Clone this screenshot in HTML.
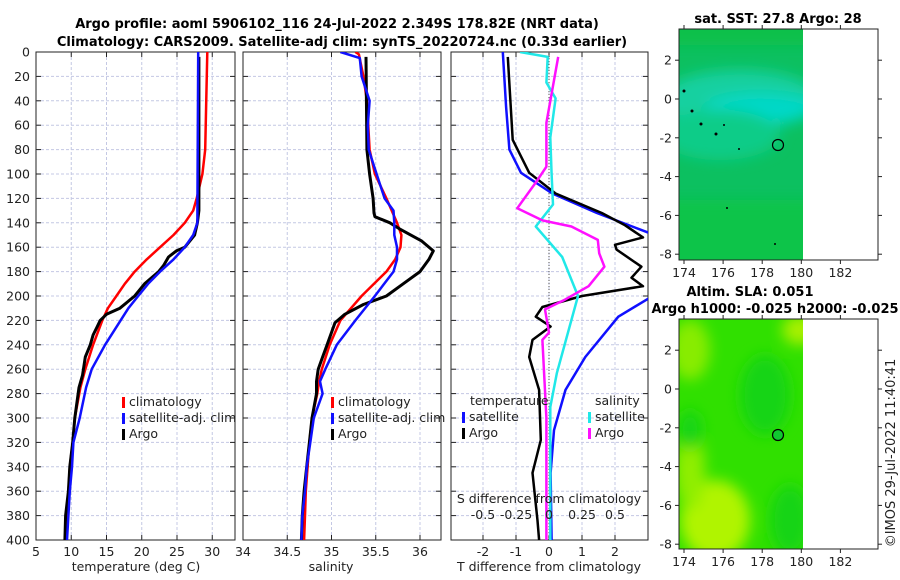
<!DOCTYPE html>
<html><head><meta charset="utf-8"><style>
html,body{margin:0;padding:0;background:#fff}
svg{display:block;font-family:"DejaVu Sans","Liberation Sans",sans-serif}
</style></head><body>
<svg id="c" width="900" height="580" viewBox="0 0 900 580" xmlns="http://www.w3.org/2000/svg">
<defs>
<filter id="bl" x="-20%" y="-20%" width="140%" height="140%"><feGaussianBlur stdDeviation="7"/></filter>
<clipPath id="m1"><rect x="679" y="29" width="124" height="231"/></clipPath>
<clipPath id="m2"><rect x="679" y="319" width="124" height="230"/></clipPath>
<clipPath id="p1"><rect x="36" y="52" width="199" height="488"/></clipPath>
<clipPath id="p2"><rect x="243" y="52" width="198" height="488"/></clipPath>
<clipPath id="p3"><rect x="451" y="52" width="197" height="488"/></clipPath>
</defs>
<g font-weight="bold" font-size="13" text-anchor="middle">
<text x="337" y="28">Argo profile: aoml 5906102_116 24-Jul-2022 2.349S 178.82E (NRT data)</text>
<text x="342" y="46">Climatology: CARS2009. Satellite-adj clim: synTS_20220724.nc (0.33d earlier)</text>
</g>
<g id="g1"></g><g id="g2"></g><g id="g3"></g>

<g>
<text x="778" y="23" font-size="13" font-weight="bold" text-anchor="middle">sat. SST: 27.8 Argo: 28</text>
<g clip-path="url(#m1)">
<rect x="679" y="29" width="124" height="231" fill="#0cc060"/>
<g filter="url(#bl)">
<rect x="660" y="20" width="160" height="25" fill="#10c048"/>
<ellipse cx="740" cy="100" rx="80" ry="30" fill="#18d0a0"/>
<ellipse cx="760" cy="108" rx="55" ry="14" fill="#00d8c8"/>
<ellipse cx="720" cy="135" rx="60" ry="25" fill="#10cc88"/>
<rect x="660" y="200" width="160" height="70" fill="#10c448"/>
</g>
<g fill="#000"><circle cx="684" cy="91" r="1.5"/><circle cx="692" cy="111" r="1.5"/><circle cx="701" cy="124" r="1.5"/><circle cx="716" cy="134" r="1.5"/><circle cx="724" cy="125" r="1"/><circle cx="739" cy="149" r="1"/><circle cx="727" cy="208" r="1"/><circle cx="775" cy="244" r="1"/></g>
</g>
<rect x="679" y="29" width="199" height="231" fill="none" stroke="#222"/>
<circle cx="778" cy="145" r="5.5" fill="none" stroke="#000" stroke-width="1.2"/>
</g>
<g>
<text x="750" y="296" font-size="13" font-weight="bold" text-anchor="middle">Altim. SLA: 0.051</text>
<text x="775" y="313" font-size="13" font-weight="bold" text-anchor="middle">Argo h1000: -0.025 h2000: -0.025</text>
<g clip-path="url(#m2)">
<rect x="679" y="319" width="124" height="230" fill="#30e000"/>
<g filter="url(#bl)">
<ellipse cx="690" cy="350" rx="20" ry="30" fill="#88ec00"/>
<ellipse cx="800" cy="330" rx="18" ry="15" fill="#a8f000"/>
<ellipse cx="715" cy="520" rx="35" ry="40" fill="#b0f400"/>
<ellipse cx="690" cy="470" rx="15" ry="40" fill="#90ee00"/>
<ellipse cx="765" cy="395" rx="25" ry="40" fill="#14d414"/>
<ellipse cx="790" cy="520" rx="20" ry="35" fill="#14d414"/>
<ellipse cx="690" cy="430" rx="12" ry="20" fill="#14d414"/>
</g>
</g>
<rect x="679" y="319" width="199" height="230" fill="none" stroke="#222"/>
<circle cx="778" cy="435" r="5.5" fill="#10c830" stroke="#000" stroke-width="1.2"/>
</g>
<text transform="translate(895,453) rotate(-90)" font-size="13" text-anchor="middle" fill="#222">©IMOS 29-Jul-2022 11:40:41</text>
</svg>
<script>
const tClimDepth=[0,80,100,120,130,140,150,160,170,180,190,200,210,220,240,260,275,300,320,340,360,380,400];
const tClimVal=[29.3,29.0,28.6,27.8,27.3,26.1,24.5,22.6,20.7,19.0,17.6,16.4,15.2,14.4,13.1,12.0,11.3,10.5,10.2,9.8,9.6,9.3,9.2];
const tSatDepth=[0,130,140,150,160,170,180,190,200,210,220,240,260,275,300,320,340,360,380,400];
const tSatVal=[28.0,27.9,27.9,27.3,26.1,24.5,22.6,20.9,19.5,18.1,17.0,14.8,12.9,12.1,11.2,10.3,10.1,9.8,9.6,9.4];
const tArgoDepth=[4,120,130,140,150,160,163,168,175,180,190,200,210,215,220,225,232,240,250,265,275,300,320,340,360,380,400];
const tArgoVal=[28.1,28.1,28.1,27.9,27.5,26.1,24.9,23.8,23.1,22.4,20.4,19.0,16.9,15.0,14.1,13.7,13.1,12.7,12.0,11.6,11.1,10.5,10.2,9.8,9.6,9.2,9.1];
const sClimDepth=[0,2,20,40,80,100,120,140,150,160,170,180,200,220,240,260,270,280,300,320,340,360,380,400];
const sClimVal=[35.27,35.31,35.36,35.40,35.43,35.49,35.62,35.74,35.79,35.78,35.72,35.62,35.34,35.10,34.98,34.89,34.86,34.84,34.78,34.75,34.73,34.71,34.70,34.69];
const sSatDepth=[0,5,20,40,60,80,100,120,130,140,150,160,170,180,200,220,240,260,270,280,300,320,340,360,380,400];
const sSatVal=[35.10,35.32,35.34,35.43,35.41,35.42,35.51,35.60,35.70,35.71,35.71,35.74,35.74,35.70,35.49,35.27,35.06,34.93,34.87,34.90,34.80,34.76,34.72,34.70,34.67,34.66];
const sArgoDepth=[4,80,100,120,132,135,140,145,155,163,170,180,190,200,207,215,222,240,250,260,270,280,300,320,340,360,380,400];
const sArgoVal=[35.39,35.40,35.43,35.47,35.48,35.49,35.66,35.77,36.02,36.15,36.10,36.00,35.81,35.62,35.36,35.15,35.04,34.95,34.90,34.85,34.83,34.83,34.78,34.75,34.72,34.69,34.67,34.66];
const dTSatDepth=[0,45,80,99,116,132,150,199,217,250,277,310,345,400];
const dTSatVal=[-1.4,-1.3,-1.2,-0.85,0.1,1.45,3.2,3.2,2.1,1.1,0.5,0.15,0.05,0.08];
const dTArgoDepth=[4,72,99,116,132,142,152,158,162,176,185,192,200,209,217,225,236,250,277,318,345,384,400];
const dTArgoVal=[-1.25,-1.1,-0.6,0.2,1.6,2.3,2.85,2.0,2.05,2.8,2.5,2.85,1.0,-0.2,-0.4,0.05,-0.5,-0.6,-0.3,-0.25,-0.5,-0.35,-0.3];
const dSSatDepth=[0,4,25,38,70,100,125,143,168,200,263,291,400];
const dSSatVal=[-0.22,-0.01,-0.02,0.05,0.01,0.02,0.03,-0.1,0.1,0.22,0.06,0.01,0.01];
const dSArgoDepth=[4,58,94,107,128,138,143,154,165,176,192,203,211,230,236,300,400];
const dSArgoVal=[0.07,-0.02,-0.02,-0.1,-0.24,-0.05,0.17,0.37,0.38,0.42,0.3,0.12,-0.03,0.0,-0.05,-0.02,-0.02];
const depthTicks=[0,20,40,60,80,100,120,140,160,180,200,220,240,260,280,300,320,340,360,380,400];
const tTicks=[5,10,15,20,25,30];
const sTicks=[34,34.5,35,35.5,36];
const dTTicks=[-2,-1,0,1,2];
const dSTicks=[-0.5,-0.25,0,0.25,0.5];
const dSTickLabels=["-0.5","-0.25","0","0.25","0.5"];

const NS='http://www.w3.org/2000/svg';
const Y0=52,Y1=540;
const yD=d=>Y0+(Y1-Y0)*d/400;
function mk(p,tag,a){const e=document.createElementNS(NS,tag);for(const k in a)e.setAttribute(k,a[k]);p.appendChild(e);return e;}
function panel(g,x0,x1,xs,ticks,labels){
  const fr=mk(g,'rect',{x:x0,y:Y0,width:x1-x0,height:Y1-Y0,fill:'none',stroke:'#222','stroke-width':1});
  
  
  depthTicks.forEach(d=>{
    if(d>0&&d<400){const l=mk(g,'line',{x1:x0,x2:x1,y1:yD(d),y2:yD(d),stroke:'#c4c8e4','stroke-dasharray':'3,2','stroke-width':1});
    
    }
    mk(g,'line',{x1:x0,x2:x0+5,y1:yD(d),y2:yD(d),stroke:'#222'});
    mk(g,'line',{x1:x1-5,x2:x1,y1:yD(d),y2:yD(d),stroke:'#222'});
  });
  ticks.forEach((v,i)=>{
    const x=xs(v);
    if(x>x0+1&&x<x1-1){const l=mk(g,'line',{x1:x,x2:x,y1:Y0,y2:Y1,stroke:'#c4c8e4','stroke-dasharray':'3,2'});
    
    }
    mk(g,'line',{x1:x,x2:x,y1:Y1,y2:Y1-5,stroke:'#222'});
    mk(g,'line',{x1:x,x2:x,y1:Y0,y2:Y0+5,stroke:'#222'});
    if(labels){const t=mk(g,'text',{x:x,y:556,'font-size':12.5,'text-anchor':'middle',fill:'#222'});t.textContent=labels[i];
    
    }
  });
}
function line(g,xs,dep,val,col,w,clip,name){
  const pts=dep.map((d,i)=>xs(val[i]).toFixed(1)+','+yD(d).toFixed(1)).join(' ');
  const p=mk(g,'polyline',{points:pts,fill:'none',stroke:col,'stroke-width':w,'stroke-linejoin':'round','clip-path':clip});
  
  
}
function legend(g,x,y,items){
  items.forEach((it,i)=>{
    mk(g,'rect',{x:x,y:y+i*16-9,width:3,height:11,fill:it[1]});
    const t=mk(g,'text',{x:x+7,y:y+i*16,'font-size':12.5,fill:'#222'});t.textContent=it[0];
    
    
  });
}
const g1=document.getElementById('g1');
const xT=v=>36+(v-5)*7.05;
panel(g1,36,235,xT,tTicks,tTicks.map(String));
depthTicks.forEach(d=>{const t=mk(g1,'text',{x:30,y:yD(d)+4.5,'font-size':12.5,'text-anchor':'end',fill:'#222'});t.textContent=d;

});
line(g1,xT,tClimDepth,tClimVal,'#ff0000',2.5,'url(#p1)','temp-climatology-line');
line(g1,xT,tArgoDepth,tArgoVal,'#000',3,'url(#p1)','temp-argo-line');
line(g1,xT,tSatDepth,tSatVal,'#1010ff',2.5,'url(#p1)','temp-satellite-line');
legend(g1,122,406,[['climatology','#ff0000'],['satellite-adj. clim','#1010ff'],['Argo','#000']]);
{const t=mk(g1,'text',{x:136,y:571,'font-size':12.5,'text-anchor':'middle',fill:'#222'});t.textContent='temperature (deg C)';

}
const g2=document.getElementById('g2');
const xS=v=>243+(v-34)*88.5;
panel(g2,243,441,xS,sTicks,['34','34.5','35','35.5','36']);
line(g2,xS,sClimDepth,sClimVal,'#ff0000',2.5,'url(#p2)','sal-climatology-line');
line(g2,xS,sArgoDepth,sArgoVal,'#000',3,'url(#p2)','sal-argo-line');
line(g2,xS,sSatDepth,sSatVal,'#1010ff',2.5,'url(#p2)','sal-satellite-line');
legend(g2,331,406,[['climatology','#ff0000'],['satellite-adj. clim','#1010ff'],['Argo','#000']]);
{const t=mk(g2,'text',{x:331,y:571,'font-size':12.5,'text-anchor':'middle',fill:'#222'});t.textContent='salinity';

}
const g3=document.getElementById('g3');
const xDT=v=>549+v*33;
const xDS=v=>549+v*132;
panel(g3,451,648,xDT,dTTicks,dTTicks.map(String));
{const l=mk(g3,'line',{x1:549,x2:549,y1:Y0,y2:Y1,stroke:'#555','stroke-dasharray':'1,2'});

}
line(g3,xDT,dTSatDepth,dTSatVal,'#1010ff',2.5,'url(#p3)','tdiff-satellite-line');
line(g3,xDT,dTArgoDepth,dTArgoVal,'#000',2.5,'url(#p3)','tdiff-argo-line');
line(g3,xDS,dSSatDepth,dSSatVal,'#20e8e8',2.5,'url(#p3)','sdiff-satellite-line');
line(g3,xDS,dSArgoDepth,dSArgoVal,'#ff10ff',2.5,'url(#p3)','sdiff-argo-line');
{const t=mk(g3,'text',{x:470,y:405,'font-size':12.5,fill:'#222'});t.textContent='temperature';

}
{const t=mk(g3,'text',{x:595,y:405,'font-size':12.5,fill:'#222'});t.textContent='salinity';

}
legend(g3,462,421,[['satellite','#1010ff'],['Argo','#000']]);
legend(g3,588,421,[['satellite','#20e8e8'],['Argo','#ff10ff']]);
{const t=mk(g3,'text',{x:549,y:503,'font-size':12.5,'text-anchor':'middle',fill:'#222'});t.textContent='S difference from climatology';

}
dSTicks.forEach((v,i)=>{const t=mk(g3,'text',{x:xDS(v),y:519,'font-size':12.5,'text-anchor':'middle',fill:'#222'});t.textContent=dSTickLabels[i];

});
{const t=mk(g3,'text',{x:549,y:571,'font-size':12.5,'text-anchor':'middle',fill:'#222'});t.textContent='T difference from climatology';

}
const svg=document.getElementById('c');
const mapLon=[174,176,178,180,182];
const mapLat=[2,0,-2,-4,-6,-8];
[[29,260,99],[319,549,389]].forEach(m=>{
  mapLon.forEach(lo=>{const x=684+(lo-174)*19.55;
    mk(svg,'line',{x1:x,x2:x,y1:m[1],y2:m[1]+4,stroke:'#222'});
    mk(svg,'line',{x1:x,x2:x,y1:m[0],y2:m[0]-4,stroke:'#222'});
    const t=mk(svg,'text',{x:x,y:m[1]+17,'font-size':12.5,'text-anchor':'middle',fill:'#222'});t.textContent=lo;
    
    });
  mapLat.forEach(la=>{const y=m[2]-la*19.4;
    mk(svg,'line',{x1:675,x2:679,y1:y,y2:y,stroke:'#222'});
    mk(svg,'line',{x1:878,x2:882,y1:y,y2:y,stroke:'#222'});
    const t=mk(svg,'text',{x:672,y:y+4.5,'font-size':12.5,'text-anchor':'end',fill:'#222'});t.textContent=la;
    
    });
});
</script>
</body></html>
